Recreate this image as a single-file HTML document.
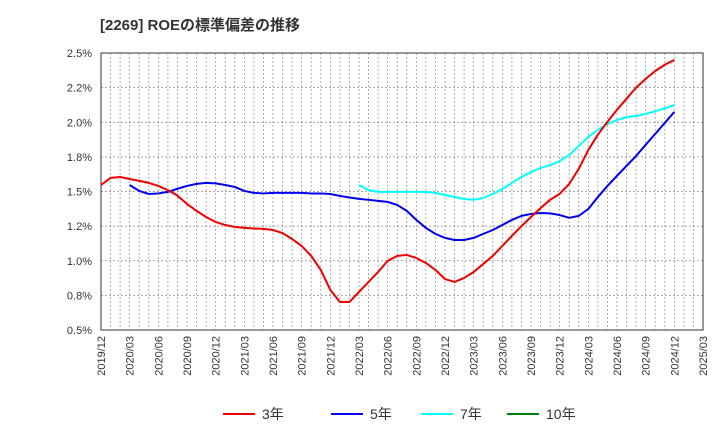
<!DOCTYPE html>
<html><head><meta charset="utf-8"><style>
body{margin:0;background:#fff;font-family:"Liberation Sans","Noto Sans CJK JP",sans-serif;}
svg text{font-family:"Liberation Sans","Noto Sans CJK JP",sans-serif;}
</style></head><body>
<svg id="c" width="720" height="440">
<text x="100" y="30" font-size="15" font-weight="bold" fill="#333">[2269]  ROEの標準偏差の推移</text>
</svg>
<script>
const yTicks=[0.5,0.75,1.0,1.25,1.5,1.75,2.0,2.25,2.5];
const yTickLabels=["0.5%","0.8%","1.0%","1.2%","1.5%","1.8%","2.0%","2.2%","2.5%"];
const xTickLabels=["2019/12","2020/03","2020/06","2020/09","2020/12","2021/03","2021/06","2021/09","2021/12","2022/03","2022/06","2022/09","2022/12","2023/03","2023/06","2023/09","2023/12","2024/03","2024/06","2024/09","2024/12","2025/03"];
const s3=[1.547,1.598,1.605,1.59,1.577,1.562,1.54,1.51,1.47,1.41,1.36,1.316,1.28,1.258,1.244,1.237,1.233,1.23,1.222,1.2,1.157,1.107,1.035,0.934,0.789,0.702,0.702,0.775,0.847,0.919,0.999,1.035,1.042,1.02,0.984,0.934,0.868,0.847,0.876,0.919,0.977,1.035,1.107,1.179,1.25,1.316,1.38,1.44,1.483,1.555,1.664,1.80,1.91,2.003,2.09,2.17,2.25,2.313,2.37,2.415,2.45];
const s5Start=3;
const s5=[1.547,1.504,1.482,1.486,1.497,1.52,1.54,1.555,1.562,1.559,1.547,1.533,1.504,1.49,1.486,1.49,1.49,1.49,1.49,1.486,1.486,1.482,1.468,1.457,1.447,1.44,1.432,1.425,1.403,1.36,1.295,1.237,1.194,1.165,1.15,1.15,1.165,1.194,1.222,1.258,1.295,1.324,1.338,1.345,1.342,1.33,1.31,1.324,1.374,1.46,1.54,1.613,1.685,1.757,1.837,1.916,1.995,2.075];
const s7Start=27;
const s7=[1.547,1.51,1.497,1.497,1.497,1.497,1.497,1.497,1.49,1.475,1.46,1.447,1.44,1.454,1.482,1.518,1.562,1.605,1.641,1.67,1.69,1.72,1.764,1.829,1.894,1.945,1.988,2.017,2.038,2.045,2.06,2.08,2.10,2.125];
const L=101,R=703,T=53,B=330;
const nMonths=63;
const xs=i=>L+(R-L)*i/nMonths;
const ys=v=>B-(v-0.5)/2.0*(B-T);
const svg=document.getElementById('c');
const NS='http://www.w3.org/2000/svg';
function mk(tag,attrs){const e=document.createElementNS(NS,tag);for(const k in attrs)e.setAttribute(k,attrs[k]);svg.appendChild(e);return e;}
// monthly vertical grid
for(let i=1;i<nMonths;i++){const g=mk('line',{x1:xs(i),x2:xs(i),y1:T,y2:B,stroke:'#999','stroke-dasharray':'2,2','stroke-width':0.8});

}
yTicks.forEach((v,i)=>{
 const g=mk('line',{x1:L,x2:R,y1:ys(v),y2:ys(v),stroke:'#888','stroke-dasharray':'2,2','stroke-width':0.8});
 
 
 const t=mk('text',{x:92,y:ys(v)+4,'text-anchor':'end','font-size':11,fill:'#333'});
 t.textContent=yTickLabels[i];
 
 
});
xTickLabels.forEach((lab,i)=>{
 const x=xs(i*3);
 const t=mk('text',{x:0,y:0,'text-anchor':'end','font-size':11,fill:'#333',transform:`translate(${x+4},336) rotate(-90)`});
 t.textContent=lab;
 
 
});
const frame=mk('rect',{x:L,y:T,width:R-L,height:B-T,fill:'none',stroke:'#333','stroke-width':1});


function series(arr,start,color,name){
 const p=mk('polyline',{points:arr.map((v,i)=>xs(i+start)+','+ys(v)).join(' '),fill:'none',stroke:color,'stroke-width':2,'stroke-linejoin':'round'});
 
 
}
series(s7,s7Start,'#00ffff','series-7yr');
series(s5,s5Start,'#0000ee','series-5yr');
series(s3,0,'#ee0000','series-3yr');
const leg=[['3年','#ee0000',223],['5年','#0000ee',331],['7年','#00ffff',421],['10年','#008000',507]];
leg.forEach(([lab,c,x])=>{
 const l=mk('line',{x1:x,x2:x+32,y1:414,y2:414,stroke:c,'stroke-width':2});
 
 
 const t=mk('text',{x:x+39,y:419,'font-size':14,fill:'#333'});
 t.textContent=lab;
 
 
});
</script>
</body></html>
